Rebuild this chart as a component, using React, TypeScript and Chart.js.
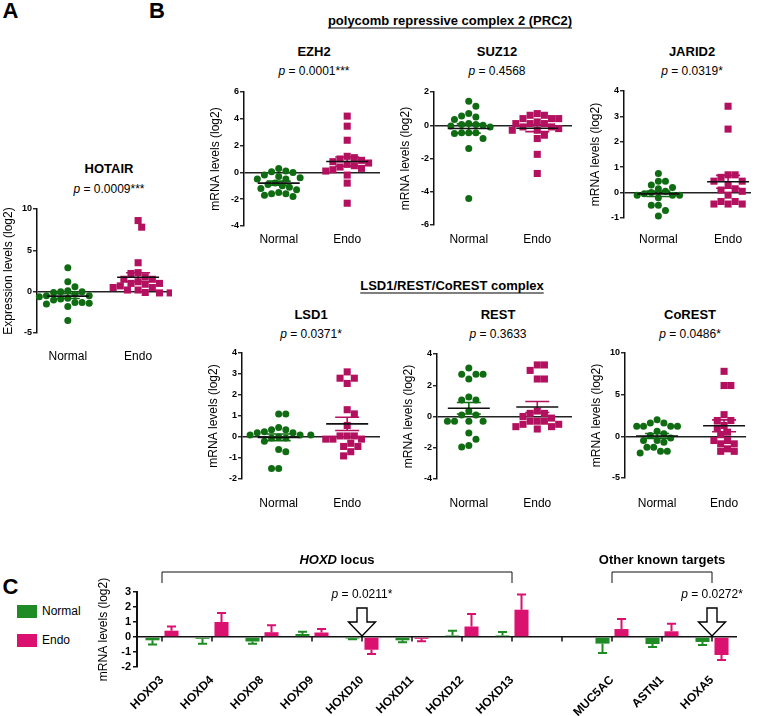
import React, { useEffect, useRef } from 'react';
import { Chart, registerables } from 'chart.js';

Chart.register(...registerables);

// ---------------- DATA ----------------
const groupLabels = ['Normal', 'Endo'];

const hotairNormal = [2.9, 1.2, 0.6, 0.1, 0.0, 0.0, -0.1, -0.3, -0.5, -0.5, -0.6, -0.8, -0.9, -1.0, -1.3, -1.3, -1.4, -1.5, -1.8, -3.5];
const hotairEndo = [8.6, 7.8, 3.5, 2.3, 2.2, 1.8, 1.5, 1.5, 1.2, 1.0, 1.0, 0.9, 0.7, 0.5, 0.5, 0.2, 0.2, -0.1, -0.15, -0.15];

const ezh2Normal = [0.3, 0.1, 0.05, 0.0, -0.2, -0.3, -0.4, -0.5, -0.5, -0.8, -0.9, -1.0, -1.1, -1.2, -1.3, -1.5, -1.6, -1.6, -1.7, -1.8];
const ezh2Endo = [4.2, 3.45, 2.4, 1.2, 1.1, 1.0, 0.9, 0.8, 0.7, 0.6, 0.5, 0.4, 0.3, 0.2, 0.1, -0.2, -0.8, -2.3];

const suz12Normal = [1.45, 1.15, 0.7, 0.55, 0.5, 0.35, 0.1, 0.05, 0.05, 0.0, -0.05, -0.1, -0.45, -0.45, -0.45, -0.5, -0.8, -1.4, -4.4];
const suz12Endo = [0.7, 0.6, 0.6, 0.4, 0.4, 0.4, 0.2, 0.1, 0.1, 0.1, -0.1, -0.1, -0.2, -0.3, -0.3, -0.6, -0.8, -1.75, -2.9];

const jarid2Normal = [0.75, 0.45, 0.45, 0.3, 0.2, 0.15, 0.05, 0.0, -0.05, -0.1, -0.1, -0.1, -0.2, -0.5, -0.5, -0.7, -0.92];
const jarid2Endo = [3.4, 2.5, 0.7, 0.7, 0.6, 0.45, 0.45, 0.3, 0.15, 0.1, 0.05, -0.1, -0.35, -0.35, -0.45, -0.45, -0.45];

const lsd1Normal = [1.1, 1.1, 0.45, 0.35, 0.35, 0.25, 0.2, 0.2, 0.1, 0.1, 0.1, 0.0, -0.05, -0.05, -0.2, -0.6, -0.7, -1.5, -1.5];
const lsd1Endo = [3.1, 2.8, 2.8, 2.55, 1.3, 1.1, 0.55, 0.05, 0.05, 0.05, -0.1, -0.1, -0.1, -0.3, -0.45, -0.45, -0.7, -0.9];

const restNormal = [3.1, 2.7, 2.7, 2.7, 2.4, 1.25, 1.05, 1.05, 0.35, 0.1, 0.1, -0.3, -0.3, -0.3, -0.3, -1.05, -1.45, -1.85, -1.95];
const restEndo = [3.3, 3.3, 2.95, 2.4, 2.4, 0.35, 0.2, 0.2, 0.0, -0.1, -0.3, -0.3, -0.3, -0.5, -0.5, -0.65, -0.65, -0.8];

const corestNormal = [2.0, 1.6, 1.6, 1.2, 1.2, 1.2, 1.2, 0.6, 0.3, 0.1, -0.2, -0.5, -0.5, -0.7, -1.3, -1.3, -1.8, -1.8, -2.0];
const corestEndo = [7.8, 6.1, 6.1, 2.6, 1.9, 1.9, 1.3, 1.0, 0.5, 0.2, -0.5, -0.5, -0.9, -0.9, -1.5, -1.8, -1.8];

const cLabels = ['HOXD3', 'HOXD4', 'HOXD8', 'HOXD9', 'HOXD10', 'HOXD11', 'HOXD12', 'HOXD13', '', 'MUC5AC', 'ASTN1', 'HOXA5'];
const cNormal = [-0.22, -0.12, -0.3, 0.2, -0.1, -0.22, 0.1, 0.1, null, -0.44, -0.47, -0.33];
const cNormalErr = [0.28, 0.33, 0.15, 0.15, 0.05, 0.13, 0.32, 0.23, null, 0.63, 0.2, 0.2];
const cEndo = [0.42, 1.0, 0.32, 0.3, -0.85, -0.12, 0.7, 1.82, null, 0.53, 0.38, -1.2];
const cEndoErr = [0.28, 0.6, 0.46, 0.23, 0.28, 0.17, 0.83, 1.02, null, 0.67, 0.51, 0.33];
const cGroups = [
  { from: 0, to: 7, lead: 'HOXD', rest: ' locus' },
  { from: 9, to: 11, lead: '', rest: 'Other known targets' },
];
const cSignificant = [
  { index: 4, p: '0.0211*' },
  { index: 11, p: '0.0272*' },
];

// ---------------- STYLE / LAYOUT ----------------
const FONT = '"Liberation Sans", Arial, Helvetica, sans-serif';
const GREEN_DOT = '#0f6c12';
const MAGENTA_DOT = '#b3115f';
const GREEN_BAR = '#1f8b24';
const PINK_BAR = '#db1170';
const INK = '#111111';

type Geo = {
  axisX: number; top: number; bottom: number; normalX: number; endoX: number; rightX: number;
  ymin: number; ymax: number; step: number; labelY: number;
};

const GEO: Record<string, Geo> = {
  hotair: { axisX: 37, top: 209, bottom: 333, normalX: 69, endoX: 142, rightX: 172, ymin: -5, ymax: 10, step: 5, labelY: 356 },
  ezh2: { axisX: 244, top: 92, bottom: 226, normalX: 280, endoX: 351, rightX: 385, ymin: -4, ymax: 6, step: 2, labelY: 239 },
  suz12: { axisX: 434, top: 92, bottom: 225, normalX: 470, endoX: 541, rightX: 577, ymin: -6, ymax: 2, step: 2, labelY: 239 },
  jarid2: { axisX: 624, top: 91, bottom: 218, normalX: 660, endoX: 733, rightX: 757, ymin: -1, ymax: 4, step: 1, labelY: 239 },
  lsd1: { axisX: 242, top: 353, bottom: 479, normalX: 280, endoX: 351, rightX: 385, ymin: -2, ymax: 4, step: 1, labelY: 503 },
  rest: { axisX: 437, top: 354, bottom: 479, normalX: 470, endoX: 541, rightX: 577, ymin: -4, ymax: 4, step: 2, labelY: 503 },
  corest: { axisX: 625, top: 353, bottom: 478, normalX: 660, endoX: 733, rightX: 757, ymin: -5, ymax: 10, step: 5, labelY: 503 },
};

const Y_W = 40;
const X_H = 36;
const PAD_TOP = 10;

function mean(a: number[]) { return a.reduce((s, v) => s + v, 0) / a.length; }
function sem(a: number[]) {
  const m = mean(a);
  const v = a.reduce((s, x) => s + (x - m) * (x - m), 0) / (a.length - 1);
  return Math.sqrt(v) / Math.sqrt(a.length);
}

function swarm(values: number[], center: number, pxPerY: number, pxPerX: number, d: number) {
  const idx = values.map((_, i) => i).sort((a, b) => values[b] - values[a]);
  const placed: { x: number; y: number }[] = [];
  const out: { x: number; y: number }[] = new Array(values.length);
  const step = d * 0.5;
  let flip = 1;
  for (const i of idx) {
    const py = values[i] * pxPerY;
    let off = 0;
    for (let t = 0; t < 80; t++) {
      off = t === 0 ? 0 : (t % 2 === 1 ? flip : -flip) * Math.ceil(t / 2) * step;
      if (placed.every(p => Math.hypot(p.x - off, p.y - py) >= d)) break;
    }
    if (off !== 0) flip = -flip;
    placed.push({ x: off, y: py });
    out[i] = { x: center + off / pxPerX, y: values[i] };
  }
  return out;
}

function ScatterPanel({ geo, normal, endo, yTitle }: { geo: Geo; normal: number[]; endo: number[]; yTitle: string }) {
  const ref = useRef<HTMLCanvasElement>(null);
  const width = Y_W + geo.rightX - geo.axisX;
  const height = PAD_TOP + geo.bottom - geo.top + X_H;
  useEffect(() => {
    if (!ref.current) return;
    const pxPerX = geo.endoX - geo.normalX;
    const xmin = 1 - (geo.normalX - geo.axisX) / pxPerX;
    const xmax = 2 + (geo.rightX - geo.endoX) / pxPerX;
    const pxPerY = (geo.bottom - geo.top) / (geo.ymax - geo.ymin);
    const groups = [normal, endo];
    const colors = [GREEN_DOT, MAGENTA_DOT];
    const meanPlugin = {
      id: 'meanSem',
      afterDatasetsDraw(chart: any) {
        const { ctx, scales } = chart;
        const xs = scales.x, ys = scales.y;
        groups.forEach((vals, gi) => {
          const cx = xs.getPixelForValue(gi + 1);
          const m = mean(vals), s = sem(vals);
          const yHi = ys.getPixelForValue(m + s), yLo = ys.getPixelForValue(m - s), yM = ys.getPixelForValue(m);
          ctx.save();
          ctx.lineWidth = 1.6;
          ctx.strokeStyle = colors[gi];
          ctx.beginPath();
          ctx.moveTo(cx, yHi); ctx.lineTo(cx, yLo);
          ctx.moveTo(cx - 12, yHi); ctx.lineTo(cx + 12, yHi);
          ctx.moveTo(cx - 12, yLo); ctx.lineTo(cx + 12, yLo);
          ctx.stroke();
          ctx.strokeStyle = INK;
          ctx.beginPath();
          ctx.moveTo(cx - 21, yM); ctx.lineTo(cx + 21, yM);
          ctx.stroke();
          ctx.restore();
        });
      },
    };
    const chart = new Chart(ref.current, {
      type: 'scatter',
      data: {
        datasets: [
          {
            label: groupLabels[0],
            data: swarm(normal, 1, pxPerY, pxPerX, 7.4),
            pointStyle: 'circle', pointRadius: 3.5, pointBackgroundColor: GREEN_DOT, pointBorderWidth: 0,
            clip: false,
          },
          {
            label: groupLabels[1],
            data: swarm(endo, 2, pxPerY, pxPerX, 7.4),
            pointStyle: 'rect', pointRadius: 5, pointBackgroundColor: MAGENTA_DOT, pointBorderWidth: 0,
            clip: false,
          },
        ],
      } as any,
      options: {
        responsive: false,
        animation: false,
        events: [],
        layout: { padding: { top: PAD_TOP, left: 0, right: 0, bottom: 0 } },
        plugins: { legend: { display: false }, tooltip: { enabled: false }, title: { display: false } },
        scales: {
          x: {
            type: 'linear', min: xmin, max: xmax,
            grid: { display: false, drawTicks: false },
            border: { display: false },
            afterBuildTicks: (s: any) => { s.ticks = [{ value: 1 }, { value: 2 }]; },
            ticks: {
              padding: geo.labelY - geo.bottom - 7,
              color: '#000',
              font: { family: FONT, size: 12 },
              callback: (v: any) => (v === 1 ? groupLabels[0] : v === 2 ? groupLabels[1] : ''),
              maxRotation: 0, minRotation: 0,
            },
            afterFit: (s: any) => { s.height = X_H; },
          },
          y: {
            min: geo.ymin, max: geo.ymax,
            ticks: { stepSize: geo.step, autoSkip: false, color: '#000', padding: 1, font: { family: FONT, size: 9, weight: 'bold' } },
            grid: {
              color: (c: any) => (c.tick && c.tick.value === 0 ? '#222' : 'rgba(0,0,0,0)'),
              lineWidth: 1.5,
              tickLength: 4,
              tickColor: INK,
              tickWidth: 1.3,
              drawTicks: true,
            },
            border: { display: true, color: INK, width: 1.5 },
            title: { display: true, text: yTitle, color: '#000', font: { family: FONT, size: 12 } },
            afterFit: (s: any) => { s.width = Y_W; },
          },
        },
      } as any,
      plugins: [meanPlugin],
    });
    return () => chart.destroy();
  }, []);
  return (
    <canvas
      ref={ref}
      width={width}
      height={height}
      style={{ position: 'absolute', left: geo.axisX - Y_W, top: geo.top - PAD_TOP, width, height }}
    />
  );
}

// Panel C geometry
const C_AXIS_X = 137, C_TOP = 592, C_BOTTOM = 667, C_RIGHT = 737, C_CANVAS_TOP = 548, C_YW = 45;

function BarPanel() {
  const ref = useRef<HTMLCanvasElement>(null);
  const width = 757 - (C_AXIS_X - C_YW);
  const height = 716 - C_CANVAS_TOP;
  useEffect(() => {
    if (!ref.current) return;
    const values = [cNormal, cEndo];
    const errs = [cNormalErr, cEndoErr];
    const colors = [GREEN_BAR, PINK_BAR];
    const errPlugin = {
      id: 'errBars',
      afterDatasetsDraw(chart: any) {
        const { ctx, scales } = chart;
        const ys = scales.y;
        values.forEach((vals, di) => {
          const meta = chart.getDatasetMeta(di);
          meta.data.forEach((bar: any, i: number) => {
            const v = vals[i];
            const e = errs[di][i];
            if (v == null || e == null) return;
            const end = v >= 0 ? v + e : v - e;
            const yEnd = ys.getPixelForValue(end);
            ctx.save();
            ctx.strokeStyle = colors[di];
            ctx.lineWidth = 2;
            ctx.beginPath();
            ctx.moveTo(bar.x, bar.y); ctx.lineTo(bar.x, yEnd);
            ctx.moveTo(bar.x - 4.5, yEnd); ctx.lineTo(bar.x + 4.5, yEnd);
            ctx.stroke();
            ctx.restore();
          });
        });
      },
    };
    const drawRich = (ctx: any, parts: { text: string; font: string }[], cx: number, cy: number) => {
      let total = 0;
      parts.forEach(p => { ctx.font = p.font; total += ctx.measureText(p.text).width; });
      let x = cx - total / 2;
      ctx.textAlign = 'left';
      ctx.textBaseline = 'middle';
      parts.forEach(p => { ctx.font = p.font; ctx.fillText(p.text, x, cy); x += ctx.measureText(p.text).width; });
    };
    const annotPlugin = {
      id: 'annot',
      afterDraw(chart: any) {
        const { ctx, chartArea, scales } = chart;
        const xs = scales.x, ys = scales.y;
        const y0 = ys.getPixelForValue(0);
        ctx.save();
        ctx.fillStyle = '#000';
        ctx.strokeStyle = INK;
        // category ticks on the zero line
        ctx.lineWidth = 1.5;
        ctx.beginPath();
        cLabels.forEach((_, i) => {
          const px = xs.getPixelForValue(i);
          ctx.moveTo(px, y0); ctx.lineTo(px, y0 + 4.5);
        });
        ctx.stroke();
        // brackets + group labels
        ctx.lineWidth = 1;
        cGroups.forEach(g => {
          const x1 = xs.getPixelForValue(g.from), x2 = xs.getPixelForValue(g.to);
          const yt = chartArea.top - 20, yb = chartArea.top - 9;
          ctx.beginPath();
          ctx.moveTo(x1, yb); ctx.lineTo(x1, yt); ctx.lineTo(x2, yt); ctx.lineTo(x2, yb);
          ctx.stroke();
          const parts = [] as { text: string; font: string }[];
          if (g.lead) parts.push({ text: g.lead, font: `italic bold 13px ${FONT}` });
          parts.push({ text: g.rest, font: `bold 13px ${FONT}` });
          drawRich(ctx, parts, (x1 + x2) / 2, chartArea.top - 32);
        });
        // significance arrows
        cSignificant.forEach(s => {
          const ax = xs.getPixelForValue(s.index);
          drawRich(ctx, [
            { text: 'p', font: `italic 12px ${FONT}` },
            { text: ' = ' + s.p, font: `12px ${FONT}` },
          ], ax, chartArea.top + 3);
          const top = chartArea.top + 16, mid = chartArea.top + 30, tip = y0 - 1;
          ctx.beginPath();
          ctx.moveTo(ax - 5, top); ctx.lineTo(ax + 5, top); ctx.lineTo(ax + 5, mid); ctx.lineTo(ax + 13.5, mid);
          ctx.lineTo(ax, tip); ctx.lineTo(ax - 13.5, mid); ctx.lineTo(ax - 5, mid); ctx.closePath();
          ctx.fillStyle = '#fff';
          ctx.fill();
          ctx.lineWidth = 1.4;
          ctx.strokeStyle = '#000';
          ctx.stroke();
          ctx.fillStyle = '#000';
        });
        ctx.restore();
      },
    };
    const chart = new Chart(ref.current, {
      type: 'bar',
      data: {
        labels: cLabels,
        datasets: [
          { label: groupLabels[0], data: cNormal, backgroundColor: GREEN_BAR, borderWidth: 0, barPercentage: 0.74, categoryPercentage: 0.76 },
          { label: groupLabels[1], data: cEndo, backgroundColor: PINK_BAR, borderWidth: 0, barPercentage: 0.74, categoryPercentage: 0.76 },
        ],
      } as any,
      options: {
        responsive: false,
        animation: false,
        events: [],
        layout: { padding: { top: C_TOP - C_CANVAS_TOP, left: 0, right: 757 - C_RIGHT, bottom: 0 } },
        plugins: { legend: { display: false }, tooltip: { enabled: false }, title: { display: false } },
        scales: {
          x: {
            grid: { display: false, drawTicks: false },
            border: { display: false },
            ticks: {
              autoSkip: false, maxRotation: 45, minRotation: 45, padding: 6,
              color: '#000', font: { family: FONT, size: 12, weight: 'bold' },
            },
            afterFit: (s: any) => { s.height = 716 - C_BOTTOM; },
          },
          y: {
            min: -2, max: 3,
            ticks: { stepSize: 1, autoSkip: false, color: '#000', padding: 2, font: { family: FONT, size: 11, weight: 'bold' } },
            grid: {
              color: (c: any) => (c.tick && c.tick.value === 0 ? '#111' : 'rgba(0,0,0,0)'),
              lineWidth: 1.5,
              tickLength: 4,
              tickColor: INK,
              tickWidth: 1.5,
              drawTicks: true,
            },
            border: { display: true, color: INK, width: 2 },
            title: { display: true, text: 'mRNA levels (log2)', color: '#000', font: { family: FONT, size: 12 } },
            afterFit: (s: any) => { s.width = C_YW; },
          },
        },
      } as any,
      plugins: [errPlugin, annotPlugin],
    });
    return () => chart.destroy();
  }, []);
  return (
    <canvas
      ref={ref}
      width={width}
      height={height}
      style={{ position: 'absolute', left: C_AXIS_X - C_YW, top: C_CANVAS_TOP, width, height }}
    />
  );
}

function T({ x, y, size = 12, bold = false, underline = false, children }: any) {
  return (
    <div
      style={{
        position: 'absolute', left: x, top: y, transform: 'translate(-50%, -50%)',
        whiteSpace: 'nowrap', fontFamily: FONT, fontSize: size, fontWeight: bold ? 700 : 400,
        lineHeight: 1, color: '#000', textDecoration: underline ? 'underline' : 'none',
        textUnderlineOffset: 3,
      }}
    >
      {children}
    </div>
  );
}

function Pval({ x, y, value }: { x: number; y: number; value: string }) {
  return <T x={x} y={y}><i>p</i> = {value}</T>;
}

export default function App() {
  return (
    <div style={{ position: 'absolute', left: 0, top: 0, width: 757, height: 716, background: '#fff', overflow: 'hidden' }}>
      <T x={10.5} y={11} size={22} bold>A</T>
      <T x={157} y={11} size={22} bold>B</T>
      <T x={10.5} y={587} size={22} bold>C</T>

      <T x={450} y={20} size={13} bold underline>polycomb repressive complex 2 (PRC2)</T>
      <T x={452} y={285} size={13} bold underline>LSD1/REST/CoREST complex</T>

      <T x={109} y={168} size={13} bold>HOTAIR</T>
      <Pval x={109} y={189} value="0.0009***" />

      <T x={314} y={51} size={13} bold>EZH2</T>
      <Pval x={314} y={71} value="0.0001***" />
      <T x={497} y={51} size={13} bold>SUZ12</T>
      <Pval x={497} y={71} value="0.4568" />
      <T x={692} y={51} size={13} bold>JARID2</T>
      <Pval x={692} y={71} value="0.0319*" />

      <T x={311} y={314} size={13} bold>LSD1</T>
      <Pval x={311} y={334} value="0.0371*" />
      <T x={498} y={314} size={13} bold>REST</T>
      <Pval x={498} y={334} value="0.3633" />
      <T x={690} y={314} size={13} bold>CoREST</T>
      <Pval x={690} y={334} value="0.0486*" />

      <ScatterPanel geo={GEO.hotair} normal={hotairNormal} endo={hotairEndo} yTitle="Expression levels (log2)" />
      <ScatterPanel geo={GEO.ezh2} normal={ezh2Normal} endo={ezh2Endo} yTitle="mRNA levels (log2)" />
      <ScatterPanel geo={GEO.suz12} normal={suz12Normal} endo={suz12Endo} yTitle="mRNA levels (log2)" />
      <ScatterPanel geo={GEO.jarid2} normal={jarid2Normal} endo={jarid2Endo} yTitle="mRNA levels (log2)" />
      <ScatterPanel geo={GEO.lsd1} normal={lsd1Normal} endo={lsd1Endo} yTitle="mRNA levels (log2)" />
      <ScatterPanel geo={GEO.rest} normal={restNormal} endo={restEndo} yTitle="mRNA levels (log2)" />
      <ScatterPanel geo={GEO.corest} normal={corestNormal} endo={corestEndo} yTitle="mRNA levels (log2)" />

      <BarPanel />

      <div style={{ position: 'absolute', left: 17, top: 605, width: 20, height: 13, background: GREEN_BAR }} />
      <div style={{ position: 'absolute', left: 42, top: 605, fontFamily: FONT, fontSize: 12, lineHeight: '13px' }}>{groupLabels[0]}</div>
      <div style={{ position: 'absolute', left: 17, top: 634, width: 20, height: 13, background: PINK_BAR }} />
      <div style={{ position: 'absolute', left: 42, top: 634, fontFamily: FONT, fontSize: 12, lineHeight: '13px' }}>{groupLabels[1]}</div>
    </div>
  );
}
